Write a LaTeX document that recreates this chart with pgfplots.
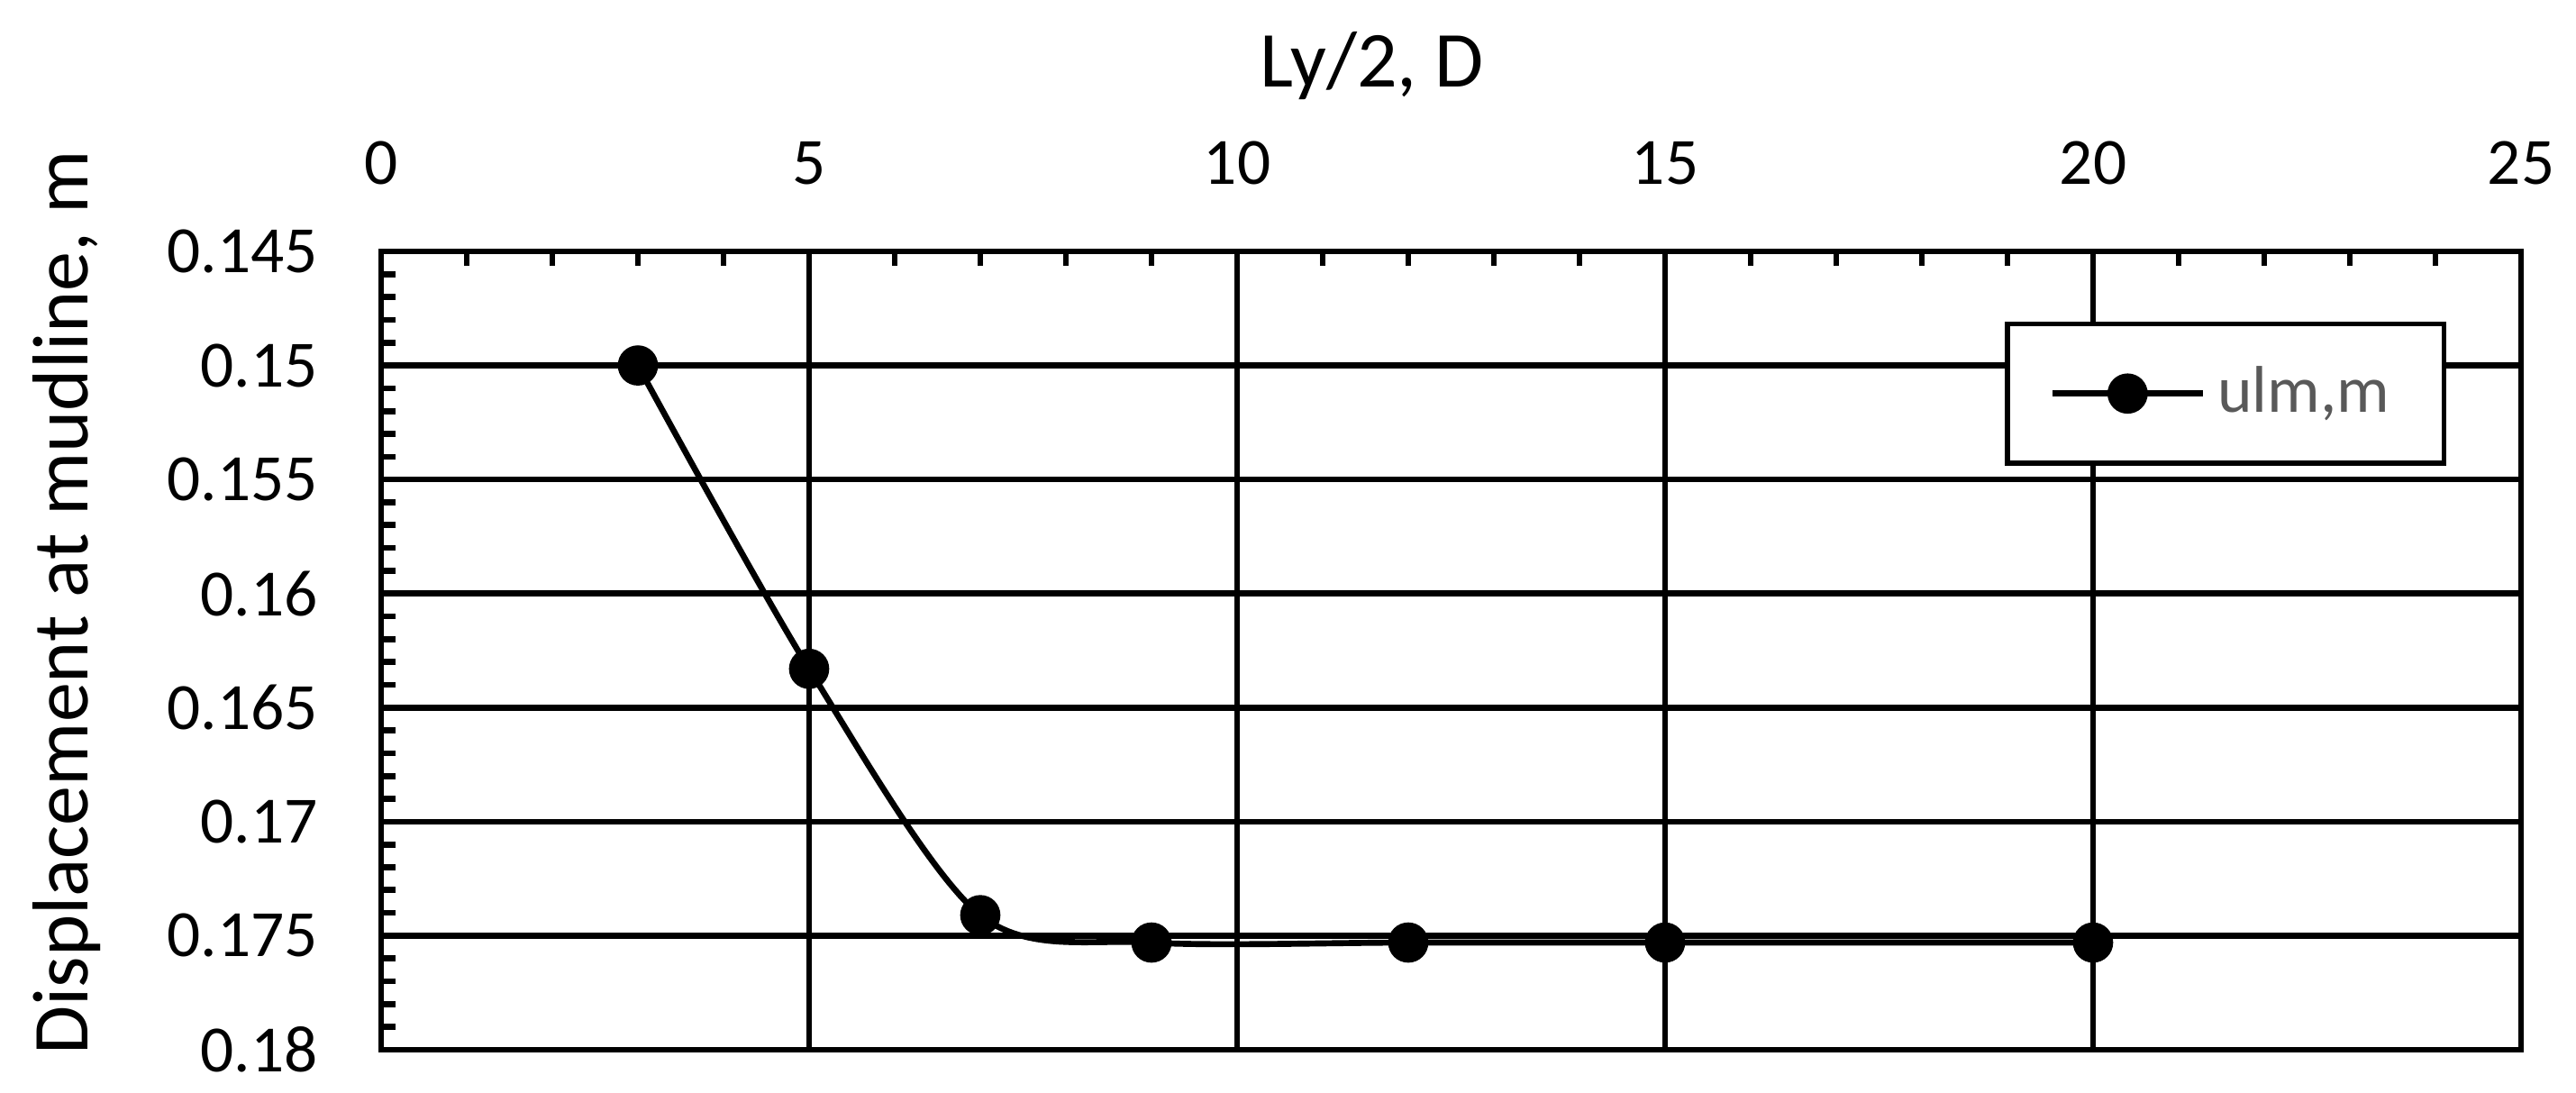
\documentclass[border=0pt]{standalone}
\usepackage{pgfplots}
\pgfplotsset{compat=1.18}
\usepackage{fontspec}
\setmainfont{Carlito}
\definecolor{legtext}{RGB}{89,89,89}

\begin{document}
\begin{tikzpicture}
\useasboundingbox (-63.45pt,-7.2pt) rectangle (365.4pt,174.75pt);
\begin{axis}[
  at={(0pt,0pt)}, anchor=south west,
  scale only axis, width=356.25pt, height=132.9pt,
  xmin=0, xmax=25, ymin=0.145, ymax=0.18, y dir=reverse,
  xtick={0,5,10,15,20,25},
  ytick={0.145,0.15,0.155,0.16,0.165,0.17,0.175,0.18},
  yticklabels={0.145,0.15,0.155,0.16,0.165,0.17,0.175,0.18},
  minor x tick num=4, minor y tick num=4,
  xtick pos=right, xticklabel pos=right, ytick pos=left,
  tick align=inside, major tick length=0pt, minor tick length=2.4pt,
  minor tick style={black, line width=1pt},
  grid=major, major grid style={black, line width=1pt},
  axis line style={black, line width=1pt},
  /pgf/number format/assume math mode=true,
  tick label style={font=\fontsize{11}{13}\selectfont, black},
  xticklabel style={yshift=7.5pt},
  yticklabel style={xshift=-7pt},
  xlabel={Ly/2, D}, ylabel={Displacement at mudline, m},
  label style={font=\fontsize{13.2}{16}\selectfont},
  xlabel style={at={(axis description cs:0.463,1.2325)}, anchor=center},
  ylabel style={at={(axis description cs:-0.147,0.56)}, anchor=center},
  legend style={at={(axis description cs:0.965,0.912)}, anchor=north east,
    draw=black, line width=0.8pt, inner xsep=7pt, inner ysep=5pt,
    font=\fontsize{11}{13}\selectfont, text=legtext},
  legend image code/.code={\draw[mark repeat=2,mark phase=2] plot coordinates {(0pt,0pt)(12.5pt,0pt)(25pt,0pt)};},
]
\addplot[black, line width=1pt, smooth, mark=*, mark size=2.85pt, mark options={solid, fill=black}]
  coordinates {(3,0.1500)(5,0.1633)(7,0.1741)(9,0.1753)(12,0.1753)(15,0.1753)(20,0.1753)};
\addlegendentry{ulm,m}
\end{axis}
\end{tikzpicture}
\end{document}
